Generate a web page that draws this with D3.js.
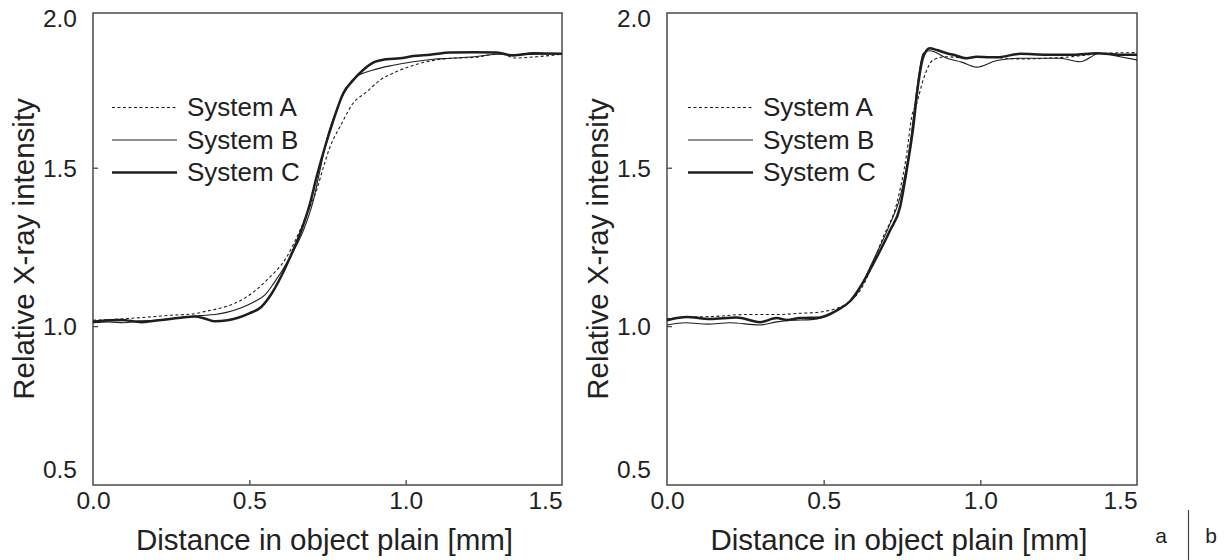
<!DOCTYPE html>
<html>
<head>
<meta charset="utf-8">
<script src="https://cdn.jsdelivr.net/npm/d3@7"></script>
<style>
  body { margin: 0; background: #fff; }
  text { font-family: "Liberation Sans", Arial, sans-serif; fill: #222; }
</style>
</head>
<body>
<script>
// Width and height
var w = 1230;
var h = 560;

// series names and tick labels
var seriesNames = ["System A", "System B", "System C"];
var xTicks = [0.0, 0.5, 1.0, 1.5];
var yTicks = [0.5, 1.0, 1.5, 2.0];

// panel a  ([distance mm, relative intensity])
var leftA = [[0,1.02],[0.05,1.022],[0.133,1.027],[0.2,1.032],[0.25,1.036],[0.321,1.04],[0.36,1.048],[0.406,1.058],[0.45,1.072],[0.49,1.093],[0.555,1.146],[0.619,1.219],[0.662,1.304],[0.694,1.378],[0.715,1.43],[0.737,1.504],[0.758,1.567],[0.79,1.631],[0.832,1.705],[0.875,1.741],[0.918,1.778],[0.971,1.805],[1.046,1.831],[1.142,1.847],[1.22,1.85],[1.302,1.862],[1.35,1.848],[1.42,1.852],[1.5,1.86]];
var leftB = [[0,1.012],[0.05,1.015],[0.1,1.012],[0.15,1.018],[0.2,1.02],[0.278,1.028],[0.342,1.035],[0.39,1.038],[0.427,1.045],[0.47,1.058],[0.513,1.077],[0.55,1.1],[0.577,1.135],[0.63,1.219],[0.673,1.304],[0.705,1.399],[0.726,1.494],[0.747,1.589],[0.779,1.684],[0.811,1.75],[0.843,1.789],[0.896,1.81],[0.96,1.825],[1.024,1.836],[1.088,1.844],[1.142,1.847],[1.22,1.852],[1.3,1.86],[1.35,1.858],[1.42,1.86],[1.5,1.862]];
var leftC = [[0,1.015],[0.05,1.02],[0.09,1.021],[0.155,1.014],[0.218,1.021],[0.28,1.028],[0.325,1.032],[0.36,1.025],[0.389,1.017],[0.43,1.02],[0.464,1.028],[0.5,1.042],[0.538,1.062],[0.57,1.102],[0.6,1.155],[0.63,1.218],[0.662,1.293],[0.694,1.388],[0.715,1.472],[0.742,1.567],[0.769,1.652],[0.8,1.736],[0.832,1.778],[0.864,1.81],[0.896,1.833],[0.939,1.844],[0.982,1.847],[1.024,1.854],[1.078,1.858],[1.142,1.865],[1.22,1.866],[1.291,1.865],[1.344,1.856],[1.408,1.863],[1.5,1.861]];

// panel b
var rightA = [[0,1.025],[0.08,1.03],[0.15,1.032],[0.244,1.038],[0.35,1.038],[0.424,1.042],[0.488,1.046],[0.53,1.054],[0.573,1.072],[0.62,1.12],[0.69,1.283],[0.733,1.388],[0.765,1.546],[0.781,1.663],[0.797,1.705],[0.818,1.78],[0.85,1.842],[0.893,1.852],[0.956,1.847],[1.0,1.852],[1.127,1.845],[1.265,1.85],[1.404,1.863],[1.5,1.865]];
var rightB = [[0,1.005],[0.06,1.012],[0.13,1.008],[0.2,1.012],[0.297,1.005],[0.35,1.015],[0.4,1.02],[0.46,1.022],[0.5,1.03],[0.55,1.055],[0.6,1.095],[0.658,1.209],[0.712,1.325],[0.744,1.409],[0.776,1.578],[0.797,1.747],[0.818,1.863],[0.839,1.871],[0.893,1.847],[0.94,1.835],[0.988,1.819],[1.053,1.84],[1.127,1.847],[1.254,1.847],[1.318,1.836],[1.382,1.863],[1.446,1.852],[1.5,1.842]];
var rightC = [[0,1.02],[0.063,1.03],[0.137,1.024],[0.222,1.029],[0.297,1.014],[0.35,1.027],[0.382,1.021],[0.424,1.027],[0.488,1.029],[0.542,1.051],[0.584,1.08],[0.62,1.13],[0.658,1.198],[0.712,1.304],[0.744,1.378],[0.765,1.494],[0.786,1.631],[0.802,1.768],[0.818,1.852],[0.839,1.879],[0.861,1.873],[0.893,1.863],[0.914,1.858],[0.956,1.847],[0.988,1.852],[1.031,1.85],[1.053,1.85],[1.127,1.861],[1.212,1.858],[1.297,1.858],[1.372,1.863],[1.446,1.858],[1.5,1.858]];

var styles = [
  {width: 1.1, dash: "3,2.5"},
  {width: 1.1, dash: null},
  {width: 2.5, dash: null}
];

var svg = d3.select("body")
    .append("svg")
    .attr("width", w)
    .attr("height", h);

var plotTop = 13, plotBottom = 485;

function drawPanel(x0, x1, series, legendX) {
  var x = d3.scaleLinear().domain([0, 1.5]).range([x0, x1]);
  var y = d3.scaleLinear().domain([0.5, 1.99]).range([plotBottom, plotTop]);

  var g = svg.append("g");

  // x axis, ticks pointing inward
  var xa = g.append("g")
      .attr("transform", "translate(0," + plotBottom + ")")
      .call(d3.axisBottom(x).tickValues(xTicks).tickSize(-5).tickFormat(d3.format(".1f")));
  xa.select(".domain").remove();
  xa.selectAll("line").attr("stroke", "#4a4a4a").attr("stroke-width", 1.3)
      .filter(function(d){ return d === 0 || d === 1.5; }).remove();
  xa.selectAll("text")
      .attr("font-size", "24.5px")
      .attr("fill", "#222")
      .attr("y", 24)
      .attr("dy", null)
      .attr("x", function(d){ return d === 1.5 ? -17 : 0; });

  // y axis
  var ya = g.append("g")
      .attr("transform", "translate(" + x0 + ",0)")
      .call(d3.axisLeft(y).tickValues(yTicks).tickSize(-5).tickFormat(d3.format(".1f")));
  ya.select(".domain").remove();
  ya.selectAll("line").attr("stroke", "#4a4a4a").attr("stroke-width", 1.3)
      .filter(function(d){ return d === 0.5 || d === 2.0; }).remove();
  ya.selectAll(".tick")
      .attr("transform", function(d){
        var ty = Math.max(plotTop + 5, Math.min(plotBottom - 16, y(d)));
        return "translate(0," + ty + ")";
      });
  ya.selectAll("text")
      .attr("font-size", "24.5px")
      .attr("fill", "#222")
      .attr("x", -16)
      .attr("dy", "0.36em");

  // frame
  g.append("rect")
      .attr("x", x0).attr("y", plotTop)
      .attr("width", x1 - x0).attr("height", plotBottom - plotTop)
      .attr("fill", "none")
      .attr("stroke", "#4a4a4a")
      .attr("stroke-width", 1.5);

  var line = d3.line()
      .x(function(d){ return x(d[0]); })
      .y(function(d){ return y(d[1]); })
      .curve(d3.curveMonotoneX);

  series.forEach(function(s, i) {
    g.append("path")
        .datum(s)
        .attr("fill", "none")
        .attr("stroke", "#1e1e1e")
        .attr("stroke-width", styles[i].width)
        .attr("stroke-dasharray", styles[i].dash)
        .attr("d", line);
  });

  // legend
  seriesNames.forEach(function(name, i) {
    var by = 116 + i * 32.5;
    g.append("line")
        .attr("x1", legendX).attr("x2", legendX + 65)
        .attr("y1", by - 8.5).attr("y2", by - 8.5)
        .attr("stroke", "#1e1e1e")
        .attr("stroke-width", styles[i].width)
        .attr("stroke-dasharray", styles[i].dash);
    g.append("text")
        .attr("x", legendX + 75).attr("y", by)
        .attr("font-size", "26px")
        .text(name);
  });

  // axis titles
  g.append("text")
      .attr("x", (x0 + x1) / 2 - 3)
      .attr("y", 550)
      .attr("text-anchor", "middle")
      .attr("font-size", "29.5px")
      .text("Distance in object plain [mm]");

  g.append("text")
      .attr("transform", "translate(" + (x0 - 59) + "," + ((plotTop + plotBottom) / 2) + ") rotate(-90)")
      .attr("text-anchor", "middle")
      .attr("font-size", "29.5px")
      .text("Relative X-ray intensity");
}

drawPanel(93, 562, [leftA, leftB, leftC], 112);
drawPanel(667, 1137, [rightA, rightB, rightC], 688);

// panel letters
svg.append("text").attr("x", 1161).attr("y", 543).attr("text-anchor", "middle")
    .attr("font-size", "21px").text("a");
svg.append("text").attr("x", 1211).attr("y", 543).attr("text-anchor", "middle")
    .attr("font-size", "21px").text("b");
svg.append("line")
    .attr("x1", 1188.5).attr("x2", 1188.5)
    .attr("y1", 510).attr("y2", 560)
    .attr("stroke", "#444").attr("stroke-width", 1.2);
</script>
</body>
</html>
